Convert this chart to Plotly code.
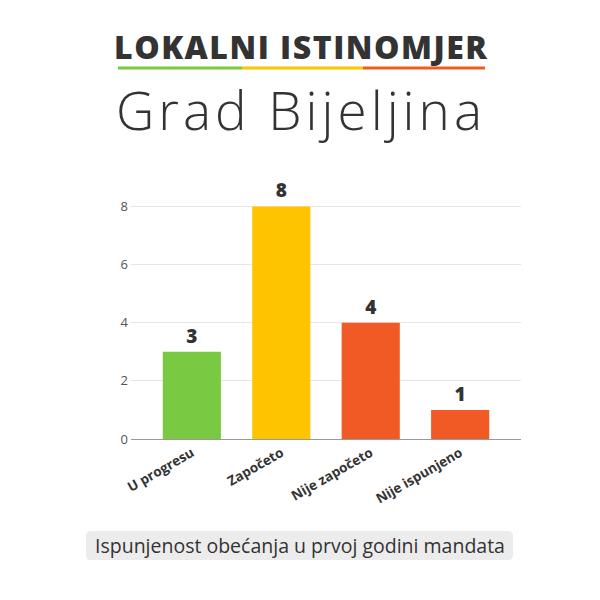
import plotly.graph_objects as go

categories = ["U progresu", "Započeto", "Nije započeto", "Nije ispunjeno"]
values = [3, 8, 4, 1]
bar_colors = ["#7AC943", "#FFC400", "#F15A24", "#F15A24"]
y_ticks = [0, 2, 4, 6, 8]

# plot area in page pixels; the page body adds an 8px offset
OFF = 8
L, R, T, B = 131, 521, 189, 439


def px(x):
    return (x - L) / (R - L)


def py(y):
    return (B - y) / (B - T)


def rounded_box(x0, x1, y0, y1, r):
    # rounded rectangle path in paper coordinates
    a0, a1 = px(x0), px(x1)
    b0, b1 = py(y1), py(y0)
    rx, ry = r / (R - L), r / (B - T)
    return (f"M {a0 + rx},{b0} L {a1 - rx},{b0} Q {a1},{b0} {a1},{b0 + ry} "
            f"L {a1},{b1 - ry} Q {a1},{b1} {a1 - rx},{b1} L {a0 + rx},{b1} "
            f"Q {a0},{b1} {a0},{b1 - ry} L {a0},{b0 + ry} Q {a0},{b0} {a0 + rx},{b0} Z")


fig = go.Figure()
fig.add_trace(go.Bar(
    x=categories, y=values,
    marker=dict(color=bar_colors, line=dict(width=0)),
    width=0.65,
    text=values, textposition="outside",
    textfont=dict(family="Open Sans", size=19, color="#333333", weight=800),
    cliponaxis=False,
    hoverinfo="skip",
))

fig.update_layout(
    width=600, height=600,
    margin=dict(l=L - OFF, r=600 - (R - OFF), t=T - OFF, b=600 - (B - OFF)),
    paper_bgcolor="white", plot_bgcolor="white",
    showlegend=False,
    xaxis=dict(
        range=[-0.68, 3.68], tickangle=-30,
        tickfont=dict(family="Open Sans", size=13.5, color="#333333", weight=700),
        showline=True, linecolor="#999999", linewidth=1,
        ticks="", showgrid=False,
    ),
    yaxis=dict(
        range=[0, 8.6], tickvals=y_ticks,
        tickfont=dict(family="Open Sans", size=13, color="#555555"),
        gridcolor="#e6e6e6", zeroline=False,
        ticks="", ticklabelstandoff=2,
    ),
    annotations=[
        dict(text='<span style="letter-spacing:1.5px">LOKALNI ISTINOMJER</span>',
             x=px(301), y=py(47), xref="paper", yref="paper",
             showarrow=False, xanchor="center", yanchor="middle",
             font=dict(family="Open Sans", size=32, color="#333333", weight=800)),
        dict(text='<span style="letter-spacing:4px">Grad Bijeljina</span>',
             x=px(301), y=py(110), xref="paper", yref="paper",
             showarrow=False, xanchor="center", yanchor="middle",
             font=dict(family="Open Sans", size=53, color="#333333", weight=300)),
        dict(text="Ispunjenost obećanja u prvoj godini mandata", x=px(300), y=py(545),
             xref="paper", yref="paper", showarrow=False, xanchor="center", yanchor="middle",
             font=dict(family="Open Sans", size=19.5, color="#333333")),
    ],
    shapes=[
        dict(type="path", xref="paper", yref="paper", path=rounded_box(86, 513, 531, 560, 5),
             fillcolor="#ececec", line=dict(width=0), layer="below"),
        dict(type="line", xref="paper", yref="paper", x0=px(118), x1=px(242),
             y0=py(68), y1=py(68), line=dict(color="#7AC943", width=3)),
        dict(type="line", xref="paper", yref="paper", x0=px(242), x1=px(363),
             y0=py(68), y1=py(68), line=dict(color="#FFC400", width=3)),
        dict(type="line", xref="paper", yref="paper", x0=px(363), x1=px(485),
             y0=py(68), y1=py(68), line=dict(color="#F15A24", width=3)),
    ],
)

fig.write_html("out.html")
